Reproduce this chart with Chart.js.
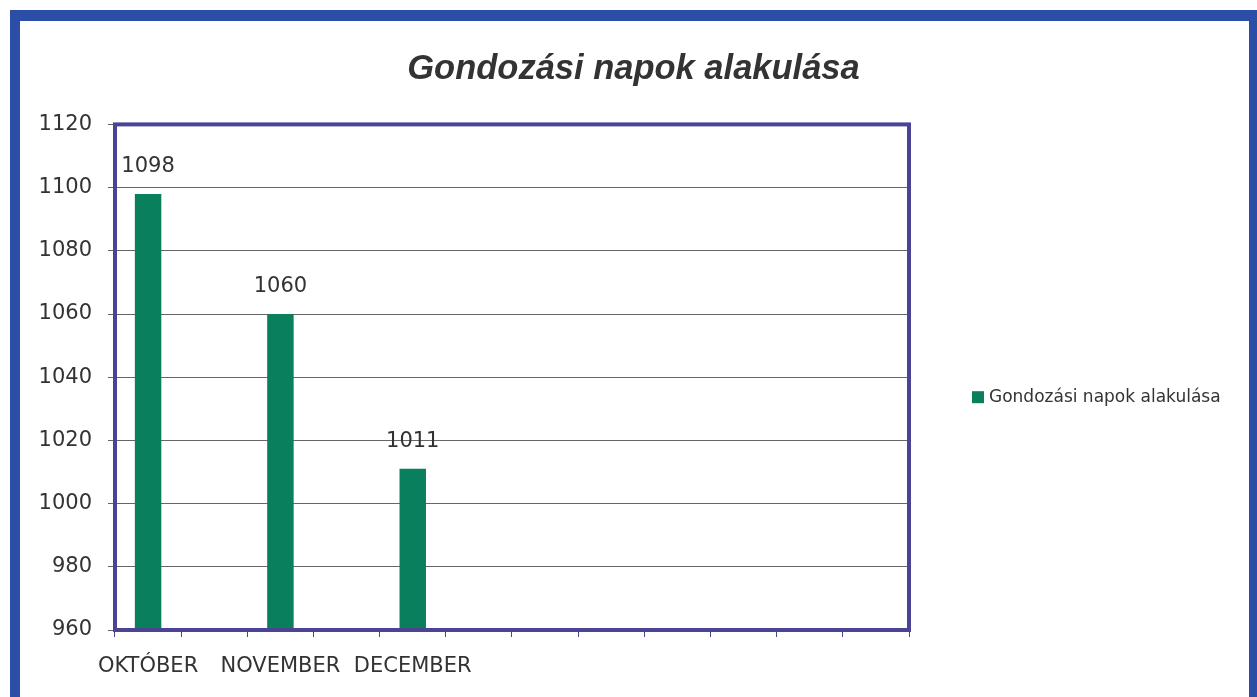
<!DOCTYPE html>
<html>
<head>
<meta charset="utf-8">
<script src="https://cdn.jsdelivr.net/npm/chart.js@4/dist/chart.umd.min.js"></script>
<style>
  html, body { margin: 0; padding: 0; background: #ffffff; overflow: hidden; }
  #wrap { position: relative; width: 1257px; height: 697px; }
  #c { position: absolute; left: 0; top: 0; }
  #frame {
    position: absolute; left: 10px; top: 10px; width: 1229px; height: 700px;
    border-left: 10px solid #2B4EA6; border-top: 11px solid #2B4EA6; border-right: 8px solid #2B4EA6;
    pointer-events: none;
  }
</style>
</head>
<body>
<div id="wrap">
  <canvas id="c" width="1257" height="697"></canvas>
  <div id="frame"></div>
</div>
<script>
const chartTitle = 'Gondozási napok alakulása';
const seriesName = 'Gondozási napok alakulása';
const categories = ['OKTÓBER', '', 'NOVEMBER', '', 'DECEMBER', '', '', '', '', '', '', ''];
const values = [1098, null, 1060, null, 1011, null, null, null, null, null, null, null];
const yMin = 960;
const yMax = 1120;
const yStep = 20;

const TXT = '#333333';
const FONT = "'DejaVu Sans', sans-serif";

const plotBorder = {
  id: 'plotBorder',
  afterDraw(chart) {
    const a = chart.chartArea, ctx = chart.ctx;
    ctx.save();
    ctx.strokeStyle = '#4B4394';
    ctx.lineWidth = 4;
    ctx.strokeRect(a.left, a.top, a.right - a.left, a.bottom - a.top);
    ctx.restore();
  }
};

const valueLabels = {
  id: 'valueLabels',
  afterDatasetsDraw(chart) {
    const ctx = chart.ctx;
    const meta = chart.getDatasetMeta(0);
    ctx.save();
    ctx.font = '21px ' + FONT;
    ctx.fillStyle = TXT;
    ctx.textAlign = 'center';
    ctx.textBaseline = 'middle';
    meta.data.forEach((bar, i) => {
      const v = chart.data.datasets[0].data[i];
      if (v === null || v === undefined) return;
      ctx.fillText(String(v), bar.x, bar.y - 27);
    });
    ctx.restore();
  }
};

// Legend drawn to the right of the plot area (Excel-style placement)
const sideLegend = {
  id: 'sideLegend',
  afterDraw(chart) {
    const a = chart.chartArea, ctx = chart.ctx;
    const ds = chart.data.datasets[0];
    const x0 = a.right + 63;
    const yc = (a.top + a.bottom) / 2 + 20;
    ctx.save();
    ctx.fillStyle = ds.backgroundColor;
    ctx.fillRect(x0, yc - 6, 12, 12);
    ctx.font = '17px ' + FONT;
    ctx.fillStyle = TXT;
    ctx.textAlign = 'left';
    ctx.textBaseline = 'middle';
    ctx.fillText(ds.label, x0 + 17, yc);
    ctx.restore();
  }
};

new Chart(document.getElementById('c'), {
  type: 'bar',
  data: {
    labels: categories,
    datasets: [{
      label: seriesName,
      data: values,
      backgroundColor: '#0A7F5E',
      borderWidth: 0,
      categoryPercentage: 1.0,
      barPercentage: 0.4,
      yAxisID: 'y'
    }]
  },
  options: {
    responsive: false,
    devicePixelRatio: 1,
    animation: false,
    layout: { padding: { left: 10, top: 20, right: 0, bottom: 0 } },
    plugins: {
      title: {
        display: true,
        text: chartTitle,
        color: TXT,
        font: { family: "'Liberation Sans', sans-serif", size: 34.5, style: 'italic', weight: 'bold', lineHeight: 1.2 },
        padding: { top: 29, bottom: 34 }
      },
      legend: { display: false },
      tooltip: { enabled: false }
    },
    scales: {
      x: {
        offset: true,
        border: { display: false },
        grid: { offset: true, drawOnChartArea: false, drawTicks: true, tickLength: 7, color: '#4B4394', lineWidth: 1 },
        ticks: { color: TXT, font: { family: FONT, size: 21 }, autoSkip: false, maxRotation: 0, minRotation: 0, padding: 17 },
        afterFit(scale) { scale.height = 67; }
      },
      y: {
        min: yMin,
        max: yMax,
        border: { display: false },
        grid: { color: '#666666', lineWidth: 1, drawTicks: true, tickLength: 7 },
        ticks: { stepSize: yStep, color: TXT, font: { family: FONT, size: 21 }, padding: 16, callback: (v) => String(v) },
        afterFit(scale) { scale.width = 105; }
      },
      legendSpace: {
        type: 'linear',
        position: 'right',
        display: true,
        border: { display: false },
        grid: { display: false, drawOnChartArea: false, drawTicks: false },
        ticks: { display: false },
        afterFit(scale) { scale.width = 348; }
      }
    }
  },
  plugins: [plotBorder, valueLabels, sideLegend]
});
</script>
</body>
</html>
